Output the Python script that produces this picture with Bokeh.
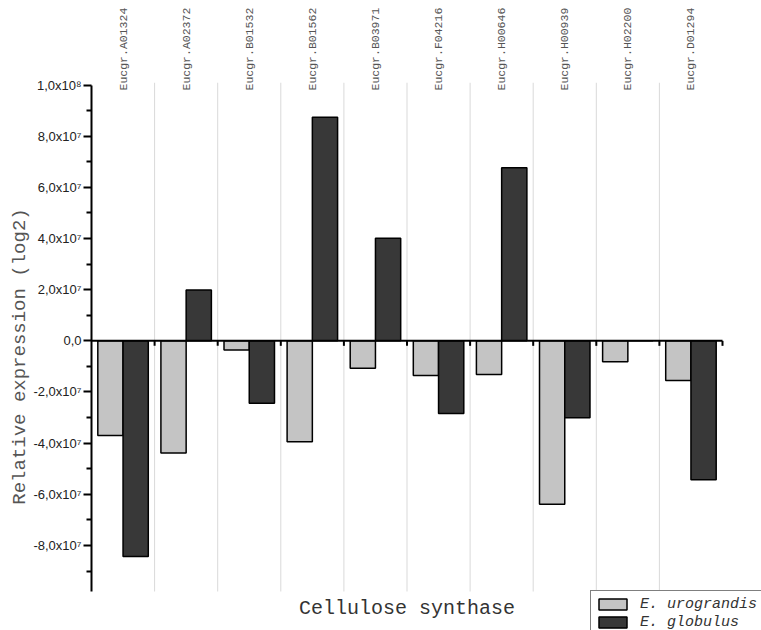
import math
from bokeh.plotting import figure
from bokeh.models import (ColumnDataSource, Range1d, LinearAxis, FixedTicker,
                          Label, Legend, LegendItem, Title)
from bokeh.transform import dodge
from bokeh.embed import file_html
from bokeh.resources import INLINE

# ---- data ----
genes = ["Eucgr.A01324", "Eucgr.A02372", "Eucgr.B01532", "Eucgr.B01562", "Eucgr.B03971",
         "Eucgr.F04216", "Eucgr.H00646", "Eucgr.H00939", "Eucgr.H02200", "Eucgr.D01294"]
urograndis = [-37.0e6, -43.9e6, -3.6e6, -39.5e6, -10.7e6, -13.6e6, -13.2e6, -63.9e6, -8.2e6, -15.5e6]
globulus = [-84.3e6, 19.9e6, -24.4e6, 87.4e6, 40.1e6, -28.4e6, 67.7e6, -30.1e6, 0.0, -54.3e6]
series_names = ["E. urograndis", "E. globulus"]
y_ticks = [-8e7, -6e7, -4e7, -2e7, 0, 2e7, 4e7, 6e7, 8e7, 1e8]
y_tick_labels = ["-8,0x10\u2077", "-6,0x10\u2077", "-4,0x10\u2077", "-2,0x10\u2077", "0,0",
                 "2,0x10\u2077", "4,0x10\u2077", "6,0x10\u2077", "8,0x10\u2077", "1,0x10\u2078"]
y_minor = [-9e7, -7e7, -5e7, -3e7, -1e7, 1e7, 3e7, 5e7, 7e7, 9e7]
x_title = "Cellulose synthase"
y_title = "Relative expression (log2)"

n = len(genes)
Y_AXIS_MIN, Y_MAX = -9.8e7, 1.01e8

# ---- layout (pixels) ----
W, H = 761, 630
LEFT, TOP = 91, 82
AXIS_BOTTOM_PX, AXIS_RIGHT_PX = 591, 722          # where the drawn axes end
PLOT_H = AXIS_BOTTOM_PX - TOP
PLOT_W = AXIS_RIGHT_PX - LEFT
PX_Y = (Y_MAX - Y_AXIS_MIN) / PLOT_H              # data units per pixel (y)
PX_X = n / PLOT_W                                 # data units per pixel (x)
y_start = Y_AXIS_MIN - (H - AXIS_BOTTOM_PX) * PX_Y
x_end = n + (W - AXIS_RIGHT_PX) * PX_X

MONO = "Liberation Mono"
GRAY_FILL = "#c4c4c4"
DARK_FILL = "#383838"

centers = [i + 0.5 for i in range(n)]
src = ColumnDataSource(dict(center=centers, gene=genes, uro=urograndis, glo=globulus))

p = figure(width=W, height=H, x_range=Range1d(0, x_end), y_range=Range1d(y_start, Y_MAX),
           output_backend="svg", toolbar_location=None,
           x_axis_location=None, y_axis_location=None,
           min_border_left=LEFT, min_border_right=0, min_border_top=TOP, min_border_bottom=0)
p.outline_line_color = None
p.background_fill_color = "white"
p.border_fill_color = "white"
for g in list(p.grid):
    g.visible = False

# vertical separators between genes
sep_x = list(range(1, n))
p.segment(x0=sep_x, y0=[Y_AXIS_MIN] * len(sep_x), x1=sep_x, y1=[Y_MAX] * len(sep_x),
          line_color="#d9d9d9", line_width=1)

r1 = p.vbar(x=dodge("center", -0.2, range=p.x_range), top="uro", bottom=0, width=0.4, source=src,
            fill_color=GRAY_FILL, line_color="black", line_width=1.5)
r2 = p.vbar(x=dodge("center", 0.2, range=p.x_range), top="glo", bottom=0, width=0.4, source=src,
            fill_color=DARK_FILL, line_color="black", line_width=1.5)

# x axis line at zero with small outward ticks at the gene boundaries
bounds_x = list(range(1, n + 1))
p.segment(x0=[0], y0=[0], x1=[n], y1=[0], line_color="black", line_width=2)
p.segment(x0=bounds_x, y0=[0] * n, x1=bounds_x, y1=[-5 * PX_Y] * n,
          line_color="black", line_width=2)

# y axis
yaxis = LinearAxis(ticker=FixedTicker(ticks=y_ticks, minor_ticks=y_minor),
                   major_label_overrides=dict(zip(y_ticks, y_tick_labels)),
                   bounds=(Y_AXIS_MIN, y_ticks[-1]),
                   axis_line_width=2, major_tick_line_width=2, minor_tick_line_width=2,
                   major_tick_out=8, major_tick_in=0, minor_tick_out=5, minor_tick_in=0,
                   major_label_standoff=2,
                   major_label_text_font="Liberation Sans", major_label_text_font_size="13px",
                   major_label_text_color="#222222")
p.add_layout(yaxis, "left")

# y title (left panel, shifted down like the reference)
p.add_layout(Title(text=y_title, align="center", offset=-18, standoff=0,
                   text_font=MONO, text_font_size="19px", text_font_style="normal",
                   text_color="#555555"), "left")

# gene labels on top
top_axis = LinearAxis(ticker=FixedTicker(ticks=centers, minor_ticks=[]),
                      major_label_overrides=dict(zip(centers, genes)),
                      major_label_orientation="vertical", major_label_standoff=-8,
                      axis_line_color=None, major_tick_line_color=None,
                      major_tick_out=0, major_tick_in=0, minor_tick_out=0, minor_tick_in=0,
                      major_label_text_font=MONO, major_label_text_font_size="11.5px",
                      major_label_text_color="#555555")
p.add_layout(top_axis, "above")

# x title
p.add_layout(Label(x=n / 2, y=Y_AXIS_MIN, y_offset=-17, text=x_title,
                   text_align="center", text_baseline="middle",
                   text_font=MONO, text_font_size="20px", text_color="#333333"))

legend = Legend(items=[LegendItem(label=series_names[0], renderers=[r1]),
                       LegendItem(label=series_names[1], renderers=[r2])],
                location=(499, -6), orientation="vertical", margin=0, padding=4, spacing=0,
                glyph_width=35, glyph_height=14, label_height=18, label_standoff=10,
                label_text_font=MONO, label_text_font_style="italic", label_text_font_size="15px",
                label_text_color="#333333", border_line_color="black", border_line_width=1,
                background_fill_color="white", background_fill_alpha=1)
p.add_layout(legend, "center")

open("out.html", "w").write(file_html(p, INLINE))
